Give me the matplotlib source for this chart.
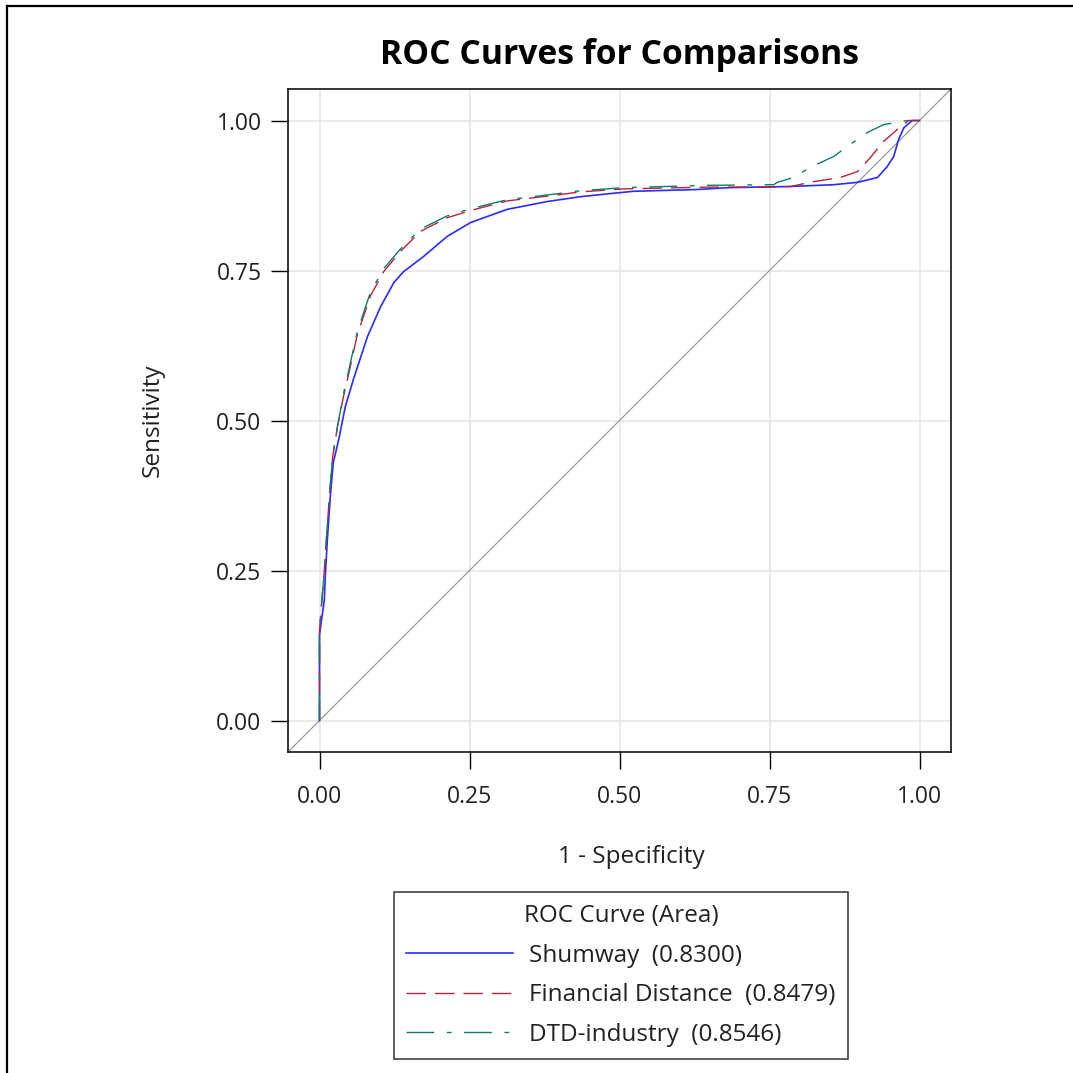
import matplotlib
matplotlib.use("Agg")
import matplotlib.pyplot as plt
from matplotlib.lines import Line2D

plt.rcParams['font.family'] = ['Open Sans', 'DejaVu Sans']

# ---- data ----
shumway_fpr = [0, 0, 0.008, 0.010, 0.013, 0.018, 0.023, 0.032, 0.043, 0.057, 0.080, 0.102,
               0.124, 0.140, 0.173, 0.213, 0.252, 0.313, 0.380, 0.435, 0.473, 0.523, 0.630,
               0.680, 0.785, 0.857, 0.897, 0.930, 0.946, 0.957, 0.965, 0.974, 0.988, 1.0]
shumway_tpr = [0, 0.143, 0.20, 0.247, 0.30, 0.373, 0.43, 0.468, 0.523, 0.57, 0.64, 0.69,
               0.73, 0.748, 0.773, 0.807, 0.83, 0.852, 0.865, 0.873, 0.877, 0.882, 0.885,
               0.888, 0.89, 0.893, 0.897, 0.905, 0.923, 0.94, 0.968, 0.988, 1.0, 1.0]

fd_fpr = [0, 0, 0.008, 0.012, 0.017, 0.022, 0.030, 0.040, 0.048, 0.063, 0.085, 0.107,
          0.135, 0.168, 0.213, 0.252, 0.313, 0.397, 0.435, 0.507, 0.647, 0.757, 0.785,
          0.823, 0.868, 0.897, 0.918, 0.940, 0.963, 0.982, 1.0]
fd_tpr = [0, 0.15, 0.25, 0.31, 0.38, 0.44, 0.49, 0.54, 0.575, 0.643, 0.708, 0.748,
          0.782, 0.815, 0.838, 0.85, 0.866, 0.876, 0.881, 0.886, 0.889, 0.889, 0.89,
          0.898, 0.905, 0.915, 0.938, 0.965, 0.985, 1.0, 1.0]

dtd_fpr = [0, 0, 0.008, 0.012, 0.017, 0.022, 0.030, 0.040, 0.048, 0.063, 0.085, 0.107,
           0.135, 0.168, 0.213, 0.252, 0.313, 0.397, 0.435, 0.507, 0.647, 0.757, 0.763,
           0.790, 0.818, 0.857, 0.880, 0.913, 0.940, 0.963, 0.980, 1.0]
dtd_tpr = [0, 0.15, 0.25, 0.31, 0.38, 0.44, 0.49, 0.545, 0.58, 0.648, 0.714, 0.753,
           0.786, 0.819, 0.841, 0.853, 0.868, 0.878, 0.883, 0.888, 0.892, 0.893, 0.897,
           0.905, 0.922, 0.94, 0.957, 0.98, 0.993, 0.997, 1.0, 1.0]

series_labels = ["Shumway  (0.8300)", "Financial Distance  (0.8479)", "DTD-industry  (0.8546)"]
ticks = [0.0, 0.25, 0.50, 0.75, 1.00]
tick_labels = ["0.00", "0.25", "0.50", "0.75", "1.00"]

W = H = 1073
fig = plt.figure(figsize=(W / 100, H / 100), dpi=100)
fig.patch.set_facecolor('white')

# outer border (left and top visible)
fig.add_artist(Line2D([7 / W, 7 / W], [0, 1 - 6 / H], transform=fig.transFigure, color='black', lw=1.6))
fig.add_artist(Line2D([7 / W, 1], [1 - 6 / H, 1 - 6 / H], transform=fig.transFigure, color='black', lw=1.6))

left, right, top, bottom = 288 / W, 951 / W, 1 - 89 / H, 1 - 752 / H
ax = fig.add_axes([left, bottom, right - left, top - bottom])

lim = (-0.0525, 1.0525)
ax.set_xlim(lim)
ax.set_ylim(lim)
ax.set_xticks(ticks)
ax.set_yticks(ticks)
ax.set_xticklabels(tick_labels)
ax.set_yticklabels(tick_labels)
ax.grid(True, color='#e4e4e4', lw=1.1)
ax.set_axisbelow(True)
for s in ax.spines.values():
    s.set_color('black')
    s.set_linewidth(1.1)
ax.tick_params(axis='both', direction='out', length=12, width=1.0, color='black',
               labelsize=16.5, labelcolor='#222222')
ax.tick_params(axis='x', pad=12)
ax.tick_params(axis='y', pad=7)

# diagonal reference
ax.plot(lim, lim, color='#8c8c8c', lw=0.8)

c_blue, c_red, c_teal = '#2b2bff', '#b3243a', '#137a6c'
ax.plot(shumway_fpr, shumway_tpr, color=c_blue, lw=1.2, label=series_labels[0])
ax.plot(fd_fpr, fd_tpr, color=c_red, lw=1.0, dashes=(14, 6.5), label=series_labels[1])
ax.plot(dtd_fpr, dtd_tpr, color=c_teal, lw=1.0, dashes=(20, 9, 3.5, 9), label=series_labels[2])

fig.text(619 / W, 1 - 55 / H, "ROC Curves for Comparisons", ha='center', va='center',
         fontsize=24.2, fontweight='bold', color='black')
fig.text(631 / W, 1 - 857 / H, "1 - Specificity", ha='center', va='center', fontsize=17.5, color='#222222')
fig.text(153 / W, 1 - 420 / H, "Sensitivity", ha='center', va='center', rotation=90,
         fontsize=17.5, color='#222222')

handles, labels = ax.get_legend_handles_labels()
leg = fig.legend(handles, labels, loc='upper center', bbox_to_anchor=(621 / W, 1 - 892 / H),
                 title="ROC Curve (Area)", fontsize=17.5, title_fontsize=17.5, frameon=True,
                 fancybox=False, edgecolor='black', handlelength=4.4, handletextpad=0.65,
                 labelspacing=0.64, borderpad=0.5, borderaxespad=0, alignment='center')
leg.get_frame().set_linewidth(1.1)
for t in leg.get_texts():
    t.set_color('#222222')
leg.get_title().set_color('#222222')

fig.savefig("out.png", dpi=100, facecolor='white')
